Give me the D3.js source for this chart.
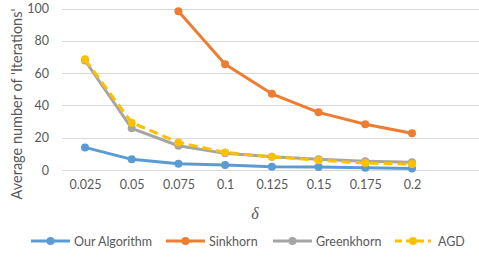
<!DOCTYPE html>
<html>
<head>
<meta charset="utf-8">
<script src="https://cdn.jsdelivr.net/npm/d3@7"></script>
<style>
  body { margin: 0; background: #fff; }
  text { font-family: Lato, "Open Sans", sans-serif; fill: #595959; }
</style>
</head>
<body>
<div id="chart"></div>
<script>
var w = 479;
var h = 260;

var deltas = ['0.025', '0.05', '0.075', '0.1', '0.125', '0.15', '0.175', '0.2'];
var yTicks = [0, 20, 40, 60, 80, 100];

var ourAlgorithm = [14.0, 6.6, 3.9, 3.1, 2.0, 1.8, 1.4, 1.0];
var sinkhorn = [null, null, 98.3, 65.5, 47.2, 35.7, 28.3, 22.7];
var greenkhorn = [67.8, 25.8, 15.0, 10.3, 8.2, 6.6, 5.4, 4.8];
var agd = [68.5, 29.3, 17.1, 10.9, 8.2, 6.0, 4.3, 3.7];

var seriesNames = ['Our Algorithm', 'Sinkhorn', 'Greenkhorn', 'AGD'];
var seriesColors = ['#5B9BD5', '#ED7D31', '#A5A5A5', '#FFC000'];
var seriesValues = [ourAlgorithm, sinkhorn, greenkhorn, agd];

var series = seriesNames.map((name, i) => ({
  name: name,
  color: seriesColors[i],
  dashed: name === 'AGD',
  values: seriesValues[i]
}));

var svg = d3.select('#chart')
  .append('svg')
    .attr('width', w)
    .attr('height', h);

var x = d3.scalePoint()
  .domain(deltas)
  .range([85, 412]);

var y = d3.scaleLinear()
  .domain([0, 100])
  .range([170, 8.5]);

// gridlines
svg.append('g')
  .selectAll('line')
  .data(yTicks)
  .enter()
  .append('line')
    .attr('x1', 62)
    .attr('x2', w)
    .attr('y1', d => Math.round(y(d)) + 0.5)
    .attr('y2', d => Math.round(y(d)) + 0.5)
    .style('stroke', '#D9D9D9')
    .style('stroke-width', '1px');

// y axis labels
var yAxis = d3.axisLeft(y).tickValues(yTicks).tickSize(0).tickPadding(0);
svg.append('g')
  .attr('transform', 'translate(49,0)')
  .call(yAxis)
  .call(g => g.select('.domain').remove())
  .selectAll('text')
    .style('font-size', '12.5px')
    .style('fill', '#595959')
    .style('font-family', 'Lato, sans-serif');

// x axis labels
var xAxis = d3.axisBottom(x).tickSize(0).tickPadding(0);
svg.append('g')
  .attr('transform', 'translate(0,180)')
  .call(xAxis)
  .call(g => g.select('.domain').remove())
  .selectAll('text')
    .style('font-size', '12.5px')
    .style('fill', '#595959')
    .style('font-family', 'Lato, sans-serif');

// axis titles
svg.append('text')
  .attr('transform', 'translate(22,104) rotate(-90)')
  .attr('text-anchor', 'middle')
  .style('font-size', '14.5px')
  .text("Average number of 'Iterations'");

svg.append('text')
  .attr('x', 255)
  .attr('y', 219)
  .attr('text-anchor', 'middle')
  .style('font-size', '16px')
  .style('font-style', 'italic')
  .style('font-family', '"Liberation Serif", serif')
  .text('δ');

// lines
var line = d3.line()
  .defined(d => d.v != null)
  .x(d => x(d.c))
  .y(d => y(d.v));

var groups = svg.selectAll('.series')
  .data(series)
  .enter()
  .append('g')
    .attr('class', 'series');

groups.append('path')
  .attr('d', s => line(s.values.map((v, i) => ({ c: deltas[i], v: v }))))
  .style('fill', 'none')
  .style('stroke', s => s.color)
  .style('stroke-width', '3px')
  .style('stroke-linejoin', 'round')
  .style('stroke-dasharray', s => s.dashed ? '9,5' : null);

groups.selectAll('circle')
  .data(s => s.values.map((v, i) => ({ c: deltas[i], v: v, color: s.color })).filter(d => d.v != null))
  .enter()
  .append('circle')
    .attr('cx', d => x(d.c))
    .attr('cy', d => y(d.v))
    .attr('r', 4)
    .style('fill', d => d.color);

// legend
var legendX = [31, 166, 273, 395];
var legend = svg.selectAll('.legend')
  .data(series)
  .enter()
  .append('g')
    .attr('class', 'legend')
    .attr('transform', (d, i) => 'translate(' + legendX[i] + ',241)');

legend.append('line')
  .attr('x1', 0)
  .attr('x2', s => s.dashed ? 36 : 39)
  .style('stroke', s => s.color)
  .style('stroke-width', '3px')
  .style('stroke-dasharray', s => s.dashed ? '7,4' : null);

legend.append('circle')
  .attr('cx', s => s.dashed ? 18 : 19.5)
  .attr('r', 4)
  .style('fill', s => s.color);

legend.append('text')
  .attr('x', 43)
  .attr('y', 4.5)
  .style('font-size', '12.5px')
  .text(s => s.name);
</script>
</body>
</html>
